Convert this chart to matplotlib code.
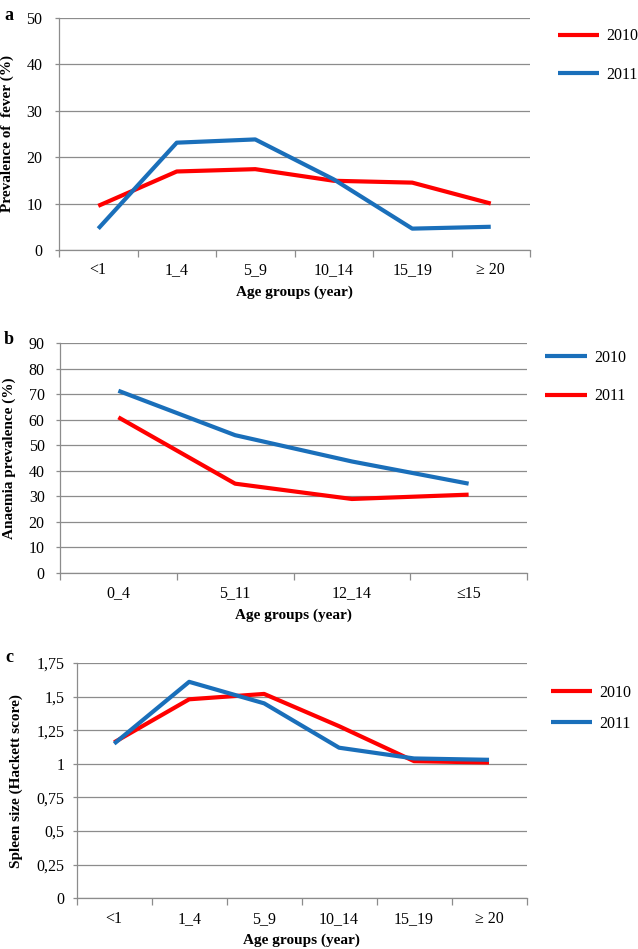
import matplotlib
matplotlib.use("Agg")
import matplotlib.pyplot as plt
import numpy as np

plt.rcParams['font.family'] = ['Liberation Serif', 'DejaVu Serif']

# Panel a: fever prevalence
cats_a = ["<1", "1_4", "5_9", "10_14", "15_19", "\u2265 20"]
fever_2010 = [9.5, 16.9, 17.4, 14.9, 14.5, 10.0]
fever_2011 = [4.6, 23.1, 23.8, 15.2, 4.6, 5.0]

# Panel b: anaemia prevalence
cats_b = ["0_4", "5_11", "12_14", "\u226415"]
anaemia_2010 = [71.4, 54.0, 43.7, 35.0]
anaemia_2011 = [61.0, 35.0, 29.0, 30.7]

# Panel c: spleen size
cats_c = ["<1", "1_4", "5_9", "10_14", "15_19", "\u2265 20"]
spleen_2010 = [1.16, 1.48, 1.52, 1.28, 1.02, 1.01]
spleen_2011 = [1.15, 1.61, 1.45, 1.12, 1.04, 1.03]

RED = "#ff0000"
BLUE = "#1a6fba"
GRID = "#8c8c8c"
FS = 11
TFS = 11.5

W, H = 638, 949
fig = plt.figure(figsize=(W / 100, H / 100), dpi=100)


def make_axes(l, r, t, b):
    return fig.add_axes([l / W, 1 - b / H, (r - l) / W, (b - t) / H])


def style(ax, cats, yticks, yticklabels, ylabel, ylabel_x, ypad, series, leg_anchor, leg_spacing):
    n = len(cats)
    x = np.arange(n)
    for vals, col, lab in series:
        ax.plot(x, vals, color=col, lw=3.0, label=lab, solid_capstyle='butt', zorder=3)
    ax.set_xlim(-0.5, n - 0.5)
    ax.set_ylim(yticks[0], yticks[-1])
    ax.set_yticks(yticks)
    ax.set_yticklabels(yticklabels, fontsize=TFS)
    ax.set_xticks(np.arange(n + 1) - 0.5)
    ax.set_xticklabels([""] * (n + 1))
    ax.set_xticks(x, minor=True)
    ax.set_xticklabels(cats, minor=True, fontsize=TFS)
    ax.tick_params(axis='x', which='major', length=5, color=GRID, width=0.9, direction='out')
    ax.tick_params(axis='x', which='minor', length=0, pad=9)
    ax.tick_params(axis='y', length=3, color=GRID, width=0.9, pad=ypad)
    ax.grid(axis='y', color=GRID, lw=0.9, zorder=0)
    ax.set_axisbelow(True)
    for s in ['top', 'right']:
        ax.spines[s].set_visible(False)
    for s in ['left', 'bottom']:
        ax.spines[s].set_color(GRID)
        ax.spines[s].set_linewidth(0.9)
    ax.set_ylabel(ylabel, fontsize=FS, fontweight='bold')
    ax.yaxis.set_label_coords(ylabel_x, 0.5)
    ax.set_xlabel("Age groups (year)", fontsize=FS, fontweight='bold', labelpad=5)
    ax.legend(loc='center left', bbox_to_anchor=leg_anchor, frameon=False,
              fontsize=TFS, handlelength=2.6, handletextpad=0.45,
              labelspacing=leg_spacing, borderpad=0, borderaxespad=0)


ax_a = make_axes(59, 530, 17.7, 250)
style(ax_a, cats_a, [0, 10, 20, 30, 40, 50], ["0", "10", "20", "30", "40", "50"],
      "Prevalence of  fever (%)", -0.095, 9,
      [(fever_2010, RED, "2010"), (fever_2011, BLUE, "2011")], (1.059, 0.837), 1.4)

ax_b = make_axes(60, 527, 343.3, 573)
style(ax_b, cats_b, list(range(0, 100, 10)), [str(v) for v in range(0, 100, 10)],
      "Anaemia prevalence (%)", -0.095, 8,
      [(anaemia_2010, BLUE, "2010"), (anaemia_2011, RED, "2011")], (1.039, 0.853), 1.4)

ax_c = make_axes(76.7, 526.5, 663, 898.3)
yc = [0, 0.25, 0.5, 0.75, 1.0, 1.25, 1.5, 1.75]
style(ax_c, cats_c, yc, ["0", "0,25", "0,5", "0,75", "1", "1,25", "1,5", "1,75"],
      "Spleen size (Hackett score)", -0.12, 6,
      [(spleen_2010, RED, "2010"), (spleen_2011, BLUE, "2011")], (1.054, 0.807), 0.95)

for letter, yy in [("a", 15), ("b", 339), ("c", 658)]:
    fig.text(9 / W, 1 - yy / H, letter, fontsize=13, fontweight='bold', ha='center', va='center')

fig.savefig("out.png", dpi=100)
